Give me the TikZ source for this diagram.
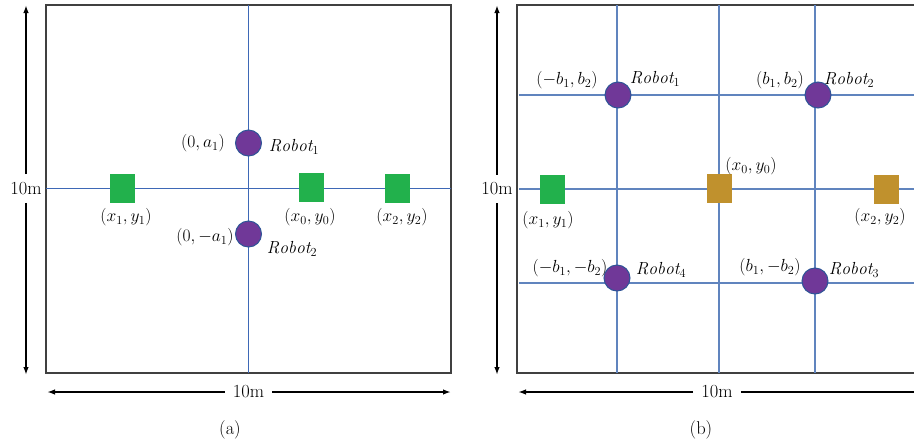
\RequirePackage{fix-cm}
\documentclass[tikz,border=0pt]{standalone}
\usepackage{fontspec}
\usetikzlibrary{arrows.meta}
\definecolor{gridblue}{RGB}{62,104,182}
\definecolor{gridlight}{RGB}{96,132,190}
\definecolor{robotfill}{RGB}{112,56,152}
\definecolor{robotedge}{RGB}{47,85,151}
\definecolor{goalgreen}{RGB}{34,177,76}
\definecolor{goalgold}{RGB}{192,145,45}
\definecolor{framegray}{RGB}{64,64,64}
\tikzset{
  robot/.style={circle,fill=robotfill,draw=robotedge,line width=1pt,minimum size=26pt,inner sep=0pt},
  goal/.style={rectangle,fill=goalgreen,minimum width=25pt,minimum height=29pt,inner sep=0pt},
  lbl/.style={inner sep=1pt,font=\fontsize{17.5}{20}\selectfont},
  dimlbl/.style={inner sep=8pt,font=\fontsize{18.5}{21}\selectfont},
  dimline/.style={line width=1.6pt,-{Latex[length=8pt,width=5.5pt]}},
  frame/.style={draw=framegray,line width=1.4pt}
}
\begin{document}
\begin{tikzpicture}[x=1pt,y=-1pt]
\useasboundingbox (0,0) rectangle (914,445);
% (a)
\draw[frame] (46,5) rectangle (451,373);
\coordinate (aT) at (248.5,5);
\coordinate (aB) at (248.5,373);
\coordinate (aL) at (46,188.5);
\coordinate (aR) at (451,188.5);
\draw[gridblue,line width=1pt] (aT)--(aB);
\draw[gridblue,line width=1pt] (aL)--(aR);
\node[robot] (ra1) at (248.5,143) {};
\node[robot] (ra2) at (248.5,234) {};
\node[goal] (ga1) at (122.5,188.5) {};
\node[goal] (ga0) at (311.5,187.5) {};
\node[goal] (ga2) at (397.5,188.5) {};
\node[lbl] (pa1) at (203,143) {$(0,a_1)$};
\node[lbl] (na1) at (294,147) {$\mathit{Robot}_1$};
\node[lbl] (pa2) at (205,237) {$(0,-a_1)$};
\node[lbl] (na2) at (292,249) {$\mathit{Robot}_2$};
\node[lbl] (qa1) at (126,217) {$(x_1,y_1)$};
\node[lbl] (qa0) at (310,217) {$(x_0,y_0)$};
\node[lbl] (qa2) at (402,217) {$(x_2,y_2)$};
\node[dimlbl] (va) at (26,188.5) {10m};
\coordinate (vaT) at (26,5);
\coordinate (vaB) at (26,375);
\draw[dimline] (va)--(vaT);
\draw[dimline] (va)--(vaB);
\node[dimlbl] (ha) at (248.5,392) {10m};
\coordinate (haL) at (47,392);
\coordinate (haR) at (451,392);
\draw[dimline] (ha)--(haL);
\draw[dimline] (ha)--(haR);
\node[dimlbl] (capa) at (230,430) {(a)};
% (b)
\draw[frame] (914,5)--(517,5)--(517,373)--(914,373);
\foreach \x in {617,719,815}
  \draw[gridlight,line width=1.2pt] (\x,5)--(\x,373);
\foreach \y in {95,189,283}
  \draw[gridlight,line width=1.2pt] (519,\y)--(914,\y);
\node[robot] (rb1) at (618,95) {};
\node[robot] (rb2) at (818,95) {};
\node[robot] (rb3) at (815,281) {};
\node[robot] (rb4) at (617,278) {};
\node[goal] (gb1) at (552.5,189.5) {};
\node[goal,fill=goalgold] (gb0) at (719.5,188.5) {};
\node[goal,fill=goalgold] (gb2) at (886.5,189) {};
\node[lbl] (pb1) at (567,80) {$(-b_1,b_2)$};
\node[lbl] (nb1) at (655,79) {$\mathit{Robot}_1$};
\node[lbl] (pb2) at (780,80) {$(b_1,b_2)$};
\node[lbl] (nb2) at (849,80) {$\mathit{Robot}_2$};
\node[lbl] (pb4) at (570,268) {$(-b_1,-b_2)$};
\node[lbl] (nb4) at (661,270) {$\mathit{Robot}_4$};
\node[lbl] (pb3) at (770,267) {$(b_1,-b_2)$};
\node[lbl] (nb3) at (854,270) {$\mathit{Robot}_3$};
\node[lbl] (qb0) at (751,166) {$(x_0,y_0)$};
\node[lbl] (qb1) at (548,220) {$(x_1,y_1)$};
\node[lbl] (qb2) at (880,217) {$(x_2,y_2)$};
\node[dimlbl] (vb) at (497,189) {10m};
\coordinate (vbT) at (497,5);
\coordinate (vbB) at (497,375);
\draw[dimline] (vb)--(vbT);
\draw[dimline] (vb)--(vbB);
\node[dimlbl] (hb) at (717,392) {10m};
\coordinate (hbL) at (518,392);
\coordinate (hbR) at (914,392);
\draw[dimline] (hb)--(hbL);
\draw[line width=1.6pt] (hb)--(hbR);
\node[dimlbl] (capb) at (701,430) {(b)};
\end{tikzpicture}
\end{document}
